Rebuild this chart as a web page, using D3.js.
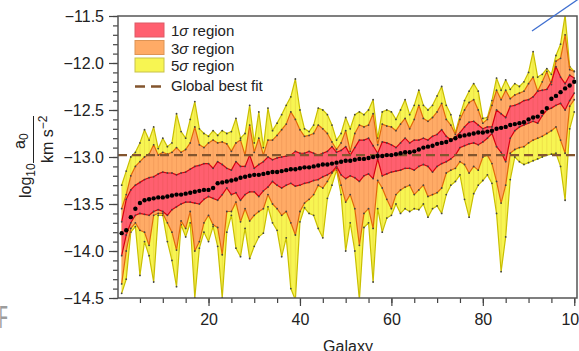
<!DOCTYPE html>
<html>
<head>
<meta charset="utf-8">
<script src="https://cdn.jsdelivr.net/npm/d3@7"></script>
<style>
  body { margin: 0; background: #fff; }
  svg { display: block; font-family: "Liberation Sans", Arial, Helvetica, sans-serif; }
</style>
</head>
<body>
<svg id="chart" width="579" height="351"></svg>
<script>
// galaxy index, sorted by best fit a0
const galaxies = d3.range(1, 101);

const bestFit = [
  -13.81,-13.78,-13.64,-13.55,-13.49,-13.46,-13.45,-13.44,-13.43,-13.43,
  -13.42,-13.41,-13.40,-13.40,-13.39,-13.38,-13.37,-13.36,-13.35,-13.35,
  -13.33,-13.28,-13.27,-13.26,-13.25,-13.24,-13.22,-13.21,-13.20,-13.19,
  -13.19,-13.18,-13.17,-13.16,-13.16,-13.15,-13.14,-13.13,-13.13,-13.12,
  -13.11,-13.11,-13.10,-13.09,-13.08,-13.08,-13.07,-13.06,-13.05,-13.04,
  -13.04,-13.03,-13.02,-13.02,-13.01,-13.00,-12.99,-12.99,-12.98,-12.98,
  -12.97,-12.96,-12.95,-12.95,-12.94,-12.92,-12.90,-12.89,-12.88,-12.86,
  -12.85,-12.84,-12.82,-12.80,-12.78,-12.77,-12.76,-12.75,-12.74,-12.74,
  -12.73,-12.72,-12.70,-12.69,-12.68,-12.66,-12.65,-12.64,-12.63,-12.60,
  -12.58,-12.57,-12.52,-12.48,-12.38,-12.35,-12.31,-12.27,-12.24,-12.20
];

const sigma1Upper = [
  -13.69,-13.45,-13.35,-13.30,-13.27,-13.24,-13.22,-13.21,-13.18,-13.16,
  -13.17,-13.17,-13.19,-13.17,-13.16,-13.13,-13.10,-13.09,-13.07,-13.07,
  -13.12,-13.05,-13.08,-13.12,-13.14,-13.05,-13.10,-13.10,-12.98,-13.12,
  -13.08,-13.05,-13.00,-13.03,-13.01,-13.00,-12.99,-12.98,-12.94,-12.96,
  -12.96,-12.94,-12.96,-12.98,-12.96,-12.94,-12.89,-12.95,-12.93,-12.89,
  -12.98,-12.90,-12.82,-12.82,-12.80,-12.88,-12.96,-12.84,-12.85,-12.87,
  -12.90,-12.85,-12.80,-12.85,-12.82,-12.82,-12.80,-12.82,-12.78,-12.76,
  -12.71,-12.78,-12.82,-12.79,-12.74,-12.68,-12.63,-12.62,-12.66,-12.70,
  -12.68,-12.68,-12.50,-12.54,-12.58,-12.46,-12.45,-12.43,-12.40,-12.39,
  -12.36,-12.30,-12.29,-12.28,-12.20,-12.04,-12.15,-12.22,-12.13,-12.16
];

const sigma1Lower = [
  -14.05,-13.83,-13.70,-13.62,-13.60,-13.61,-13.62,-13.58,-13.56,-13.58,
  -13.62,-13.56,-13.53,-13.50,-13.48,-13.48,-13.49,-13.50,-13.45,-13.42,
  -13.44,-13.46,-13.40,-13.33,-13.40,-13.38,-13.46,-13.40,-13.37,-13.37,
  -13.42,-13.36,-13.32,-13.26,-13.30,-13.33,-13.30,-13.28,-13.31,-13.30,
  -13.28,-13.27,-13.25,-13.24,-13.21,-13.19,-13.16,-13.10,-13.19,-13.23,
  -13.20,-13.22,-13.26,-13.20,-13.18,-13.23,-13.02,-13.20,-13.18,-13.16,
  -13.15,-13.14,-13.12,-13.12,-13.14,-13.10,-13.08,-13.10,-13.16,-13.10,
  -13.07,-13.05,-13.02,-12.98,-12.90,-12.88,-12.86,-12.85,-12.87,-12.84,
  -12.80,-12.75,-12.89,-12.95,-13.05,-12.80,-12.72,-12.68,-12.66,-12.64,
  -12.62,-12.64,-12.56,-12.50,-12.48,-12.45,-12.43,-12.50,-12.40,-12.32
];

const sigma3Upper = [
  -13.55,-13.40,-13.20,-13.10,-13.05,-13.00,-12.97,-12.87,-12.98,-12.95,
  -12.97,-12.95,-12.90,-12.95,-12.92,-12.85,-12.68,-12.87,-12.90,-12.85,
  -12.82,-12.85,-12.84,-12.86,-12.94,-12.85,-12.82,-12.98,-12.66,-12.95,
  -12.80,-12.98,-12.82,-12.82,-12.77,-12.71,-12.65,-12.52,-12.60,-12.71,
  -12.78,-12.77,-12.75,-12.66,-12.70,-12.75,-12.84,-12.92,-12.85,-12.72,
  -12.94,-12.75,-12.66,-12.68,-12.66,-12.54,-12.87,-12.65,-12.67,-12.68,
  -12.72,-12.65,-12.59,-12.70,-12.60,-12.45,-12.59,-12.62,-12.58,-12.52,
  -12.43,-12.60,-12.66,-12.76,-12.60,-12.50,-12.42,-12.39,-12.50,-12.64,
  -12.60,-12.45,-12.29,-12.39,-12.29,-12.38,-12.34,-12.32,-12.30,-12.22,
  -12.15,-12.30,-12.20,-12.09,-12.23,-11.98,-11.95,-11.70,-12.07,-12.09
];

const sigma3Lower = [
  -14.35,-14.00,-13.76,-13.70,-13.78,-13.80,-13.94,-13.62,-13.60,-13.60,
  -13.70,-13.80,-13.99,-13.68,-13.76,-13.58,-14.00,-13.90,-13.70,-13.62,
  -13.72,-13.75,-14.04,-13.58,-13.58,-13.48,-13.69,-13.55,-13.68,-13.62,
  -13.58,-13.55,-13.40,-13.50,-13.55,-13.62,-13.58,-13.70,-13.83,-13.58,
  -13.49,-13.45,-13.40,-13.30,-13.33,-13.26,-13.17,-13.12,-13.30,-13.48,
  -13.40,-13.55,-13.94,-13.60,-13.55,-13.76,-13.25,-13.33,-13.45,-13.55,
  -13.40,-13.35,-13.32,-13.30,-13.40,-13.35,-13.30,-13.42,-13.40,-13.38,
  -13.33,-13.17,-13.14,-13.12,-13.05,-13.08,-13.17,-13.10,-13.14,-13.00,
  -12.98,-13.07,-13.26,-13.49,-13.30,-12.96,-12.92,-12.90,-12.89,-12.85,
  -12.82,-12.80,-12.78,-12.75,-12.72,-12.68,-12.82,-12.96,-12.46,-12.39
];

const sigma5Upper = [
  -13.30,-13.15,-13.00,-12.95,-12.85,-12.71,-12.82,-12.68,-12.91,-12.80,
  -12.89,-12.85,-12.54,-12.73,-12.80,-12.60,-12.41,-12.70,-12.75,-12.78,
  -12.72,-12.77,-12.72,-12.75,-12.73,-12.59,-12.80,-12.75,-12.45,-12.85,
  -12.52,-12.90,-12.48,-12.72,-12.64,-12.55,-12.45,-12.36,-12.17,-12.50,
  -12.70,-12.73,-12.66,-12.48,-12.50,-12.55,-12.66,-12.82,-12.75,-12.58,
  -12.70,-12.55,-12.52,-12.55,-12.50,-12.39,-12.80,-12.52,-12.50,-12.52,
  -12.60,-12.50,-12.39,-12.55,-12.45,-12.29,-12.45,-12.50,-12.45,-12.35,
  -12.25,-12.45,-12.55,-12.74,-12.56,-12.40,-12.30,-12.22,-12.30,-12.59,
  -12.58,-12.40,-12.16,-12.29,-12.18,-12.28,-12.22,-12.25,-12.20,-12.10,
  -11.88,-12.15,-12.12,-12.06,-12.12,-11.92,-11.80,-11.49,-12.04,-12.09
];

const sigma5Lower = [
  -14.45,-14.30,-13.80,-13.74,-14.26,-13.90,-14.05,-14.33,-13.62,-13.62,
  -13.90,-14.10,-14.38,-13.72,-13.85,-13.70,-14.50,-13.97,-13.80,-13.90,
  -13.74,-13.95,-14.50,-13.80,-13.62,-13.97,-14.06,-13.76,-14.08,-13.95,
  -13.85,-13.81,-13.53,-13.70,-13.78,-14.06,-13.86,-14.40,-14.52,-13.69,
  -13.54,-13.60,-13.62,-13.76,-13.86,-13.44,-13.30,-13.14,-13.40,-14.00,
  -13.70,-14.00,-14.52,-13.75,-13.70,-14.33,-13.55,-13.80,-13.65,-13.62,
  -13.50,-13.60,-13.55,-13.58,-13.55,-13.56,-13.50,-13.64,-13.55,-13.52,
  -13.60,-13.40,-13.30,-13.26,-13.19,-13.45,-13.64,-13.39,-13.30,-13.25,
  -13.19,-13.28,-13.60,-14.22,-13.85,-13.24,-13.00,-13.05,-13.08,-13.06,
  -13.04,-13.02,-13.00,-12.98,-12.97,-12.96,-13.10,-13.46,-12.70,-12.52
];

const globalBestFit = -12.98;
const yTicks = [-14.5, -14.0, -13.5, -13.0, -12.5, -12.0, -11.5];
const xTicks = [20, 40, 60, 80, 100];

const bands = [
  { name: "5", label: "region", lo: sigma5Lower, hi: sigma5Upper, fill: "#f7f552", stroke: "#c9bf00", swatchStroke: "#c8c24a" },
  { name: "3", label: "region", lo: sigma3Lower, hi: sigma3Upper, fill: "#ffab66", stroke: "#e2690a", swatchStroke: "#dd9455" },
  { name: "1", label: "region", lo: sigma1Lower, hi: sigma1Upper, fill: "#ff5f6f", stroke: "#d8000f", swatchStroke: "#de5a66" }
];

const svg = d3.select("#chart");
const plotLeft = 118, plotRight = 577, plotTop = 16, plotBottom = 298;

const x = d3.scaleLinear().domain([0.2, 100.6]).range([plotLeft, plotRight]);
const y = d3.scaleLinear().domain([-14.5, -11.5]).range([plotBottom, plotTop]);

svg.append("clipPath").attr("id", "plotClip")
  .append("rect")
  .attr("x", plotLeft).attr("y", plotTop)
  .attr("width", plotRight - plotLeft).attr("height", plotBottom - plotTop);

const plot = svg.append("g").attr("clip-path", "url(#plotClip)");

// bands, widest first
bands.forEach((b) => {
  const area = d3.area()
    .x((d, i) => x(galaxies[i]))
    .y0((d, i) => y(b.lo[i]))
    .y1((d, i) => y(b.hi[i]));
  plot.append("path")
    .datum(galaxies)
    .attr("d", area)
    .attr("fill", b.fill);
});

// faint per-galaxy seams, like the original patch rendering
plot.append("g").selectAll("line")
  .data(galaxies)
  .enter().append("line")
  .attr("x1", (d) => x(d)).attr("x2", (d) => x(d))
  .attr("y1", (d, i) => y(sigma5Lower[i]))
  .attr("y2", (d, i) => y(sigma5Upper[i]))
  .attr("stroke", "#9a3000")
  .attr("stroke-opacity", 0.13)
  .attr("stroke-width", 0.8);

bands.forEach((b) => {
  [b.lo, b.hi].forEach((vals) => {
    const line = d3.line()
      .x((d, i) => x(galaxies[i]))
      .y((d) => y(d));
    plot.append("path")
      .datum(vals)
      .attr("d", line)
      .attr("fill", "none")
      .attr("stroke", b.stroke)
      .attr("stroke-width", 1.2)
      .attr("stroke-linejoin", "round");
    plot.append("g").selectAll("circle")
      .data(vals)
      .enter().append("circle")
      .attr("cx", (d, i) => x(galaxies[i]))
      .attr("cy", (d) => y(d))
      .attr("r", 0.9)
      .attr("fill", "#444");
  });
});

// global best fit
plot.append("line")
  .attr("x1", plotLeft).attr("x2", plotRight)
  .attr("y1", y(globalBestFit)).attr("y2", y(globalBestFit))
  .attr("stroke", "#83552e")
  .attr("stroke-width", 2.2)
  .attr("stroke-dasharray", "9,5");

// individual best fits
plot.append("g").selectAll("circle")
  .data(bestFit)
  .enter().append("circle")
  .attr("cx", (d, i) => x(galaxies[i]))
  .attr("cy", (d) => y(d))
  .attr("r", 2.2)
  .attr("fill", "#000");

// axes
const styleAxis = (g) => {
  g.select(".domain").remove();
  g.selectAll("line").attr("stroke", "#444").attr("stroke-width", 1.2);
  g.selectAll("text").attr("fill", "#222").style("font-size", "16px");
};

svg.append("g")
  .attr("transform", `translate(${plotLeft},0)`)
  .call(d3.axisLeft(y).tickValues(y.ticks(30)).tickSize(5).tickFormat(""))
  .call(styleAxis);

svg.append("g")
  .attr("transform", `translate(${plotLeft},0)`)
  .call(d3.axisLeft(y).tickValues(yTicks).tickSize(9).tickPadding(5).tickFormat(d3.format(".1f")))
  .call(styleAxis);

svg.append("g")
  .attr("transform", `translate(0,${plotBottom})`)
  .call(d3.axisBottom(x).tickValues(d3.range(5, 101, 5)).tickSize(5).tickFormat(""))
  .call(styleAxis);

svg.append("g")
  .attr("transform", `translate(0,${plotBottom})`)
  .call(d3.axisBottom(x).tickValues(xTicks).tickSize(8).tickPadding(8))
  .call(styleAxis);

svg.append("rect")
  .attr("x", plotLeft).attr("y", plotTop)
  .attr("width", plotRight - plotLeft).attr("height", plotBottom - plotTop)
  .attr("fill", "none")
  .attr("stroke", "#555")
  .attr("stroke-width", 1.5);

svg.append("text")
  .attr("x", 348).attr("y", 352)
  .attr("text-anchor", "middle")
  .attr("fill", "#222")
  .style("font-size", "16px")
  .text("Galaxy");

// y label: log10 (a0 / km s^-2), rotated
const yl = svg.append("g").attr("transform", "rotate(-90)").attr("fill", "#222");
const logText = yl.append("text").attr("x", -198).attr("y", 31).style("font-size", "16px");
logText.append("tspan").text("log");
logText.append("tspan").attr("dy", 4).style("font-size", "12px").text("10");

const num = yl.append("text").attr("x", -149).attr("y", 24.5).style("font-size", "16px");
num.append("tspan").text("a");
num.append("tspan").attr("dy", 3.5).style("font-size", "12px").text("0");

yl.append("line")
  .attr("x1", -163).attr("x2", -116)
  .attr("y1", 33.5).attr("y2", 33.5)
  .attr("stroke", "#222").attr("stroke-width", 1);

const den = yl.append("text").attr("x", -163).attr("y", 53).style("font-size", "16px");
den.append("tspan").text("km s");
den.append("tspan").attr("dy", -6).style("font-size", "12px").text("−2");

// legend
const legend = svg.append("g");
bands.slice().reverse().forEach((b, i) => {
  const ly = 23 + i * 17.5;
  legend.append("rect")
    .attr("x", 135).attr("y", ly)
    .attr("width", 29).attr("height", 14)
    .attr("fill", b.fill)
    .attr("stroke", b.swatchStroke)
    .attr("stroke-width", 1);
  const t = legend.append("text")
    .attr("x", 171).attr("y", ly + 13)
    .attr("fill", "#222")
    .style("font-size", "15px");
  t.append("tspan").text(b.name);
  t.append("tspan").style("font-style", "italic").text("σ");
  t.append("tspan").text(" " + b.label);
});
legend.append("line")
  .attr("x1", 135).attr("x2", 162)
  .attr("y1", 86.5).attr("y2", 86.5)
  .attr("stroke", "#83552e")
  .attr("stroke-width", 2.5)
  .attr("stroke-dasharray", "10,6");
legend.append("text")
  .attr("x", 171).attr("y", 90.5)
  .attr("fill", "#222")
  .style("font-size", "15px")
  .text("Global best fit");

// stray marks from the source figure: panel letter and pointer line
svg.append("text")
  .attr("transform", "translate(-1,328) scale(0.45,1)")
  .attr("fill", "#9c9c9c")
  .style("font-size", "32px")
  .text("F");

svg.append("line")
  .attr("x1", 532).attr("y1", 31)
  .attr("x2", 580).attr("y2", -2)
  .attr("stroke", "#3f6fd0")
  .attr("stroke-width", 1.3);
</script>
</body>
</html>
